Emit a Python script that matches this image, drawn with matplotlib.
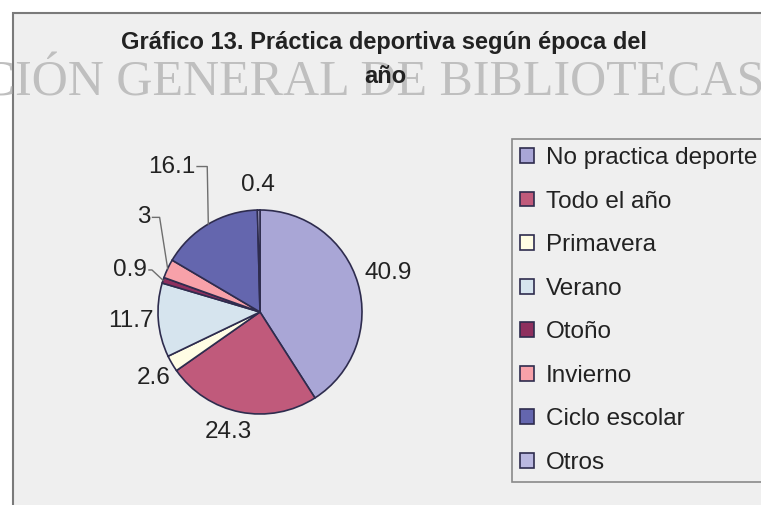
import numpy as np
import matplotlib
matplotlib.use("Agg")
import matplotlib.pyplot as plt
from matplotlib.patches import Rectangle

categorias = ["No practica deporte", "Todo el año", "Primavera", "Verano",
              "Otoño", "Invierno", "Ciclo escolar", "Otros"]
valores = [40.9, 24.3, 2.6, 11.7, 0.9, 3, 16.1, 0.4]
colores = ["#A9A6D6", "#C05A7B", "#FFFDE4", "#D6E4EE",
           "#8E2F5E", "#F7A1A9", "#6466AE", "#BAB8E0"]

# label placement (radius units / degrees) and leader-line knee length
lab_dist = [1.31, 1.22, 1.23, 1.27, 1.34, 1.47, 1.67, 1.25]
lab_shift = [0.5, -3.5, 1.6, -0.5, 0.2, -14, 0.9, 0.0]
knee = [None, None, None, None, 0.03, 0.07, 0.10, None]

plt_w = 7.61
plt_h = 5.05
W = 761.0
H = 505.0
bg = "#EFEFEF"

fig = plt.figure(figsize=(plt_w, plt_h), dpi=100, facecolor="white")

# chart area frame (runs off the right/bottom edge like the scan)
frame = Rectangle((13 / W, -0.1), 1.2, (H - 12.5) / H + 0.1, transform=fig.transFigure,
                  facecolor=bg, edgecolor="#7A7A7A", lw=1.5, zorder=-10)
fig.patches.append(frame)

# watermark
fig.text(-168 / W, 1 - 96 / H, "DIRECCIÓN GENERAL DE BIBLIOTECAS", ha="left", va="baseline",
         fontsize=36, family="Liberation Serif", color="#BFBFBF", zorder=1)

fig.text(384 / W, 1 - 49 / H, "Gráfico 13. Práctica deportiva según época del", ha="center",
         va="baseline", fontsize=17, fontweight="bold", family="Liberation Sans", color="#222222", zorder=3)
fig.text(385 / W, 1 - 83 / H, "año", ha="center", va="baseline", fontsize=17,
         fontweight="bold", family="Liberation Sans", color="#222222", zorder=3)

# pie axes: radius 1 -> ~102 px, centre at (260, 312) px
R = 102.0
S = 3 * R
cx, cy = 260.0, H - 312.0
ax = fig.add_axes([(cx - S / 2) / W, (cy - S / 2) / H, S / W, S / H])
wedges, _ = ax.pie(valores, colors=colores, startangle=90, counterclock=False,
                   wedgeprops=dict(edgecolor="#2E2C4E", linewidth=1.2))
ax.set_xlim(-1.5, 1.5)
ax.set_ylim(-1.5, 1.5)
ax.set_aspect("equal")
ax.axis("off")

textos = []
for w, v, d, s in zip(wedges, valores, lab_dist, lab_shift):
    mid = np.deg2rad((w.theta1 + w.theta2) / 2 + s)
    t = ax.text(d * np.cos(mid), d * np.sin(mid), f"{v:g}", ha="center", va="center",
                fontsize=17.5, family="Liberation Sans", color="#222222")
    textos.append(t)

fig.canvas.draw()
inv = ax.transData.inverted()
for w, t, k in zip(wedges, textos, knee):
    if k is None:
        continue
    bb = t.get_window_extent().transformed(inv)
    y0 = (bb.y0 + bb.y1) / 2
    x0 = bb.x1 + 0.02
    mid = np.deg2rad((w.theta1 + w.theta2) / 2)
    ax.plot([x0, x0 + k, np.cos(mid)], [y0, y0, np.sin(mid)], color="#6E6E6E", lw=1.0,
            clip_on=False)

leg = fig.legend(wedges, categorias, loc="upper left", bbox_to_anchor=(512 / W, 1 - 139 / H),
                 bbox_transform=fig.transFigure, frameon=True, fancybox=False, framealpha=1,
                 prop=dict(family="Liberation Sans", size=17.5), labelspacing=0.885,
                 handlelength=0.55, handleheight=0.55, handletextpad=0.5, borderpad=0.34,
                 borderaxespad=0.0)
leg.get_frame().set_facecolor(bg)
leg.get_frame().set_edgecolor("#8A8A8A")
leg.get_frame().set_linewidth(1.2)
for txt in leg.get_texts():
    txt.set_color("#222222")

plt.savefig("out.png", dpi=100, facecolor="white")
